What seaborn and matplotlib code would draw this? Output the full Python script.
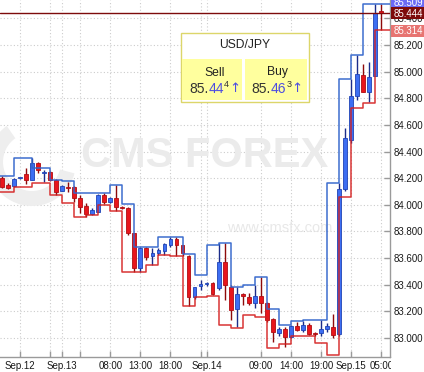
import matplotlib
matplotlib.use("Agg")
import matplotlib.pyplot as plt
import matplotlib.transforms as mtransforms
from matplotlib.patches import Rectangle, Wedge
import seaborn as sns
import pandas as pd

# hourly candles, hour 0 = Sep.13 00:00
hours = list(range(-10, 54))
opens = [84.205, 84.145, 84.140, 84.200, 84.233, 84.187, 84.315, 84.240, 84.248, 84.187,
         84.105, 84.135, 84.135, 84.052, 83.992, 83.932, 83.945, 84.075, 84.022, 84.052,
         83.985, 83.975, 83.785, 83.525, 83.675, 83.615, 83.639, 83.655, 83.699, 83.745,
         83.695, 83.615, 83.305, 83.390, 83.405, 83.415, 83.375, 83.571, 83.385, 83.215,
         83.331, 83.308, 83.263, 83.315, 83.263, 83.143, 83.037, 83.068, 83.008, 83.090,
         83.060, 83.098, 83.035, 83.037, 83.065, 83.083, 83.030, 84.115, 84.485, 84.815,
         84.975, 84.850, 84.970, 85.452]
highs = [84.215, 84.165, 84.205, 84.205, 84.278, 84.353, 84.325, 84.263, 84.255, 84.190,
         84.145, 84.172, 84.140, 84.075, 84.015, 83.975, 84.082, 84.090, 84.060, 84.150,
         83.990, 83.980, 83.785, 83.680, 83.680, 83.675, 83.675, 83.715, 83.760, 83.755,
         83.700, 83.625, 83.385, 83.435, 83.420, 83.420, 83.715, 83.715, 83.395, 83.385,
         83.335, 83.335, 83.395, 83.455, 83.271, 83.150, 83.085, 83.085, 83.095, 83.120,
         83.128, 83.113, 83.045, 83.135, 83.113, 83.180, 84.165, 84.575, 84.945, 85.125,
         85.055, 85.075, 85.505, 85.509]
lows = [84.125, 84.115, 84.130, 84.195, 84.157, 84.185, 84.240, 84.172, 84.180, 84.075,
        84.100, 84.097, 84.022, 83.940, 83.910, 83.925, 83.945, 84.005, 84.015, 83.955,
        83.965, 83.775, 83.495, 83.495, 83.585, 83.549, 83.625, 83.625, 83.685, 83.615,
        83.615, 83.240, 83.295, 83.360, 83.390, 83.320, 83.360, 83.285, 83.135, 83.085,
        83.245, 83.245, 83.225, 83.185, 83.120, 82.970, 83.015, 82.935, 83.000, 83.052,
        83.045, 83.023, 83.015, 83.015, 83.045, 83.000, 83.015, 84.105, 84.465, 84.790,
        84.845, 84.775, 84.965, 85.314]
closes = [84.135, 84.125, 84.195, 84.205, 84.187, 84.315, 84.263, 84.248, 84.187, 84.097,
          84.142, 84.127, 84.052, 83.985, 83.932, 83.962, 84.075, 84.022, 84.052, 83.985,
          83.975, 83.785, 83.525, 83.675, 83.609, 83.639, 83.662, 83.705, 83.745, 83.695,
          83.635, 83.305, 83.383, 83.405, 83.413, 83.330, 83.571, 83.398, 83.210, 83.331,
          83.315, 83.263, 83.315, 83.263, 83.135, 83.045, 83.068, 83.005, 83.090, 83.060,
          83.098, 83.030, 83.030, 83.065, 83.090, 83.023, 84.120, 84.505, 84.815, 84.985,
          84.850, 84.960, 85.442, 85.444]

# price channel steps (start hour of each step, upper and lower level)
band_start = [-11, -8, -5, -2, 0, 2, 4, 6, 8, 10, 12, 14, 16, 18, 20, 22, 24, 26, 28, 30,
              32, 34, 36, 38, 40, 42, 44, 46, 48, 50, 52]
band_upper = [84.215, 84.355, 84.278, 84.185, 84.175, 84.085, 84.090, 84.090, 84.150, 84.005,
              83.680, 83.680, 83.760, 83.760, 83.630, 83.475, 83.695, 83.715, 83.385, 83.400,
              83.460, 83.215, 83.098, 83.128, 83.135, 83.135, 84.165, 84.945, 85.125, 85.505,
              85.509]
band_lower = [84.095, 84.130, 84.160, 84.075, 84.015, 83.910, 83.920, 84.000, 83.955, 83.495,
              83.495, 83.545, 83.620, 83.615, 83.240, 83.305, 83.315, 83.095, 83.075, 83.175,
              83.155, 82.925, 82.955, 83.015, 83.015, 82.960, 82.872, 84.055, 84.725, 84.765,
              85.314]

tick_hours = [-7, 0, 8, 13, 18, 24, 33, 38, 43, 48, 53]
tick_labels = ["Sep.12", "Sep.13", "08:00", "13:00", "18:00", "Sep.14",
               "09:00", "14:00", "19:00", "Sep.15", "05:00"]
minor_hours = [-2, 3, 23]
price_ticks = [83.0, 83.2, 83.4, 83.6, 83.8, 84.0, 84.2, 84.4, 84.6, 84.8, 85.0, 85.2, 85.4]

last_price = 85.444
channel_high = 85.509
channel_low = 85.314
sell_quote = ["85.", "44", "4"]
buy_quote = ["85.", "46", "3"]

FAM = ["Liberation Sans", "DejaVu Sans"]


def quote(ax, x, y, parts, tr):
    base = dict(fontsize=10, family=FAM, zorder=12)
    t1 = ax.text(x, y, parts[0], transform=tr, va="baseline", color="#333333", **base)
    t2 = ax.annotate(parts[1], xy=(1, 0), xycoords=t1, va="bottom", color="#4d4de0", **base)
    t3 = ax.annotate(parts[2], xy=(1, 0), xycoords=t2, xytext=(0.3, 4.8), textcoords="offset points",
                     va="bottom", color="#333333", fontsize=6.5, family=FAM, zorder=12)
    ax.annotate("\u2191", xy=(1, 0), xycoords=(t3, t2), xytext=(0.2, 0.4), textcoords="offset points",
                va="bottom", color="#4d4de0", fontsize=9.5, family="DejaVu Sans", zorder=12)


def main():
    sns.set_theme(style="white")
    plt.rcParams["font.family"] = FAM

    W, H = 424, 372
    fig = plt.figure(figsize=(W / 100, H / 100), dpi=100)
    ax = fig.add_axes([0, 1 - 357 / H, 390 / W, 357 / H])
    px = mtransforms.Affine2D().scale(1 / W, -1 / H).translate(0, 1) + fig.transFigure

    # watermark
    ax.add_patch(Wedge((32, 162), 44, 15, 235, width=15, transform=px, fc="#eeeeee", ec="none", zorder=1))
    ax.text(205, 156, "CMS FOREX", transform=px, ha="center", va="center", fontsize=30,
            fontweight="bold", family="Liberation Sans", color="#ebebeb", zorder=1)
    ax.text(280, 228, "www.cmsfx.com", transform=px, ha="center", va="center", fontsize=10.5,
            family="Liberation Sans", color="#e8e8e8", zorder=1)

    df = pd.DataFrame(dict(hour=hours, open=opens, high=highs, low=lows, close=closes))
    df["up"] = df["close"] >= df["open"]
    styles = [(True, "#3d6ef2", "#1f43b5", "#1c2d8a"), (False, "#e8161c", "#b00d12", "#8e0a0a")]
    for up, face, edge, wick in styles:
        d = df[df["up"] == up]
        ax.vlines(d["hour"], d["low"], d["high"], color=wick, lw=1, zorder=3)
        bottom = d[["open", "close"]].min(axis=1)
        height = (d["close"] - d["open"]).abs().clip(lower=0.008)
        ax.bar(d["hour"], height, bottom=bottom, width=0.62, color=face,
               edgecolor=edge, lw=0.6, zorder=4)

    band = pd.DataFrame(dict(hour=band_start + [56],
                             upper=band_upper + [band_upper[-1]],
                             lower=band_lower + [band_lower[-1]]))
    sns.lineplot(data=band, x="hour", y="upper", drawstyle="steps-post", color="#3366cc",
                 lw=1.1, alpha=0.95, ax=ax, zorder=5)
    sns.lineplot(data=band, x="hour", y="lower", drawstyle="steps-post", color="#d41f1f",
                 lw=1.1, alpha=0.9, ax=ax, zorder=5)
    ax.axhline(last_price, color="#7d0b0b", lw=1, zorder=6)

    ax.set_xlim(-10.3, 54.45)
    ax.set_ylim(82.857, 85.538)
    ax.set_xlabel("")
    ax.set_ylabel("")
    ax.yaxis.tick_right()
    ax.set_yticks(price_ticks)
    ax.set_yticklabels([f"{p:.3f}" for p in price_ticks])
    ax.set_xticks(tick_hours)
    ax.set_xticklabels(tick_labels)
    ax.set_xticks(minor_hours, minor=True)
    ax.tick_params(axis="both", which="both", direction="in", length=4, width=1,
                   color="#9a9a9a", labelsize=7, labelcolor="#1a1a1a")
    ax.tick_params(axis="x", which="both", bottom=True, top=False, pad=3.2)
    ax.tick_params(axis="y", which="both", right=True, left=False, pad=2.4)
    ax.grid(True, which="both", color="#cccccc", lw=0.8, ls=(0, (1, 2)))
    for s in ["left", "top"]:
        ax.spines[s].set_visible(False)
    for s in ["right", "bottom"]:
        ax.spines[s].set_color("#9a9a9a")
        ax.spines[s].set_linewidth(1)

    # quote box
    ax.add_patch(Rectangle((180.5, 32.5), 128, 69, transform=px, fc="white", ec="#dcd66a", lw=1, zorder=10))
    ax.add_patch(Rectangle((182, 58.5), 59.5, 41.5, transform=px, fc="#ffff9e", ec="none", zorder=11))
    ax.add_patch(Rectangle((244.5, 58.5), 62.5, 41.5, transform=px, fc="#ffff9e", ec="none", zorder=11))
    lbl = dict(transform=px, ha="center", va="center", fontsize=8.7, family=FAM,
               color="#222222", zorder=12)
    ax.text(245, 45.5, "USD/JPY", **lbl)
    ax.text(214.5, 72.5, "Sell", **lbl)
    ax.text(277, 72.5, "Buy", **lbl)
    quote(ax, 189, 92.7, sell_quote, px)
    quote(ax, 251, 92.7, buy_quote, px)

    # price flags on the right axis
    flags = [(channel_high, -3.5, "#6a6af5"), (last_price, 7.3, "#7d0b0b"), (channel_low, 25, "#e77471")]
    for value, top, colour in flags:
        fig.add_artist(Rectangle((391, top), 33, 12, transform=px, fc=colour, ec="none", zorder=10))
        fig.add_artist(plt.Text(393.2, top + 6.3, f"{value:.3f}", transform=px, va="center", ha="left",
                                fontsize=7, family=FAM, color="white", zorder=11))
    # mask the clipped last time label
    fig.add_artist(Rectangle((390.6, 358), 40, 20, transform=px, fc="white", ec="none", zorder=10))

    fig.savefig("out.png", dpi=100)


if __name__ == "__main__":
    main()
